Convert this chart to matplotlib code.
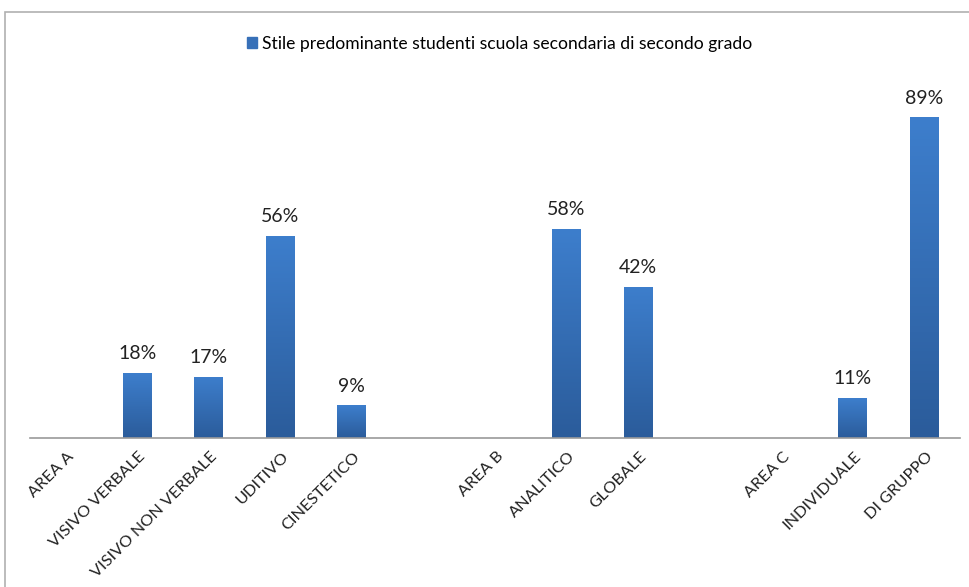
import numpy as np
import matplotlib
matplotlib.use('Agg')
import matplotlib.pyplot as plt
from matplotlib.colors import LinearSegmentedColormap
from matplotlib.patches import Rectangle
from matplotlib.transforms import ScaledTranslation

plt.rcParams['font.family'] = ['Lato', 'DejaVu Sans']

categories = ['AREA A', 'VISIVO VERBALE', 'VISIVO NON VERBALE', 'UDITIVO',
              'CINESTETICO', '', 'AREA B', 'ANALITICO', 'GLOBALE', '',
              'AREA C', 'INDIVIDUALE', 'DI GRUPPO']
values = [None, 18, 17, 56, 9, None, None, 58, 42, None, None, 11, 89]
series_name = 'Stile predominante studenti scuola secondaria di secondo grado'

W, H = 969, 587
fig = plt.figure(figsize=(W / 100, H / 100), dpi=100)
ax = fig.add_axes([30 / W, 1 - 437.7 / H, 930 / W, 360 / H])

x = np.arange(len(categories))
heights = [v / 100 if v is not None else 0 for v in values]
bw = 0.405
cmap = LinearSegmentedColormap.from_list('grad', ['#2B5C9B', '#3D7ECC'])
grad = np.linspace(0, 1, 100).reshape(-1, 1)

bars = ax.bar(x, heights, width=bw, color='none')
for b, v in zip(bars, values):
    if v is None:
        continue
    x0, y0 = b.get_x(), b.get_y()
    w, h = b.get_width(), b.get_height()
    im = ax.imshow(grad, cmap=cmap, aspect='auto', origin='lower',
                   extent=[x0, x0 + w, y0, y0 + h], zorder=2)
    im.set_clip_path(Rectangle((x0, y0), w, h, transform=ax.transData))
    ax.text(b.get_x() + w / 2, h + 0.03, f'{v}%', ha='center', va='bottom',
            fontsize=14, color='#222222')

ax.set_xlim(-0.5, len(categories) - 0.5)
ax.set_ylim(0, 1.0)
for s in ['top', 'right', 'left']:
    ax.spines[s].set_visible(False)
ax.spines['bottom'].set_color('#9a9a9a')
ax.spines['bottom'].set_linewidth(1.2)
ax.set_yticks([])
ax.set_xticks(x)
ax.set_xticklabels(categories, rotation=45, ha='right', va='center',
                   rotation_mode='anchor', fontsize=11.8, color='#222222')
ax.tick_params(axis='x', length=0, pad=12)
shift = ScaledTranslation(6 / 100, 0, fig.dpi_scale_trans)
for lbl in ax.get_xticklabels():
    lbl.set_transform(lbl.get_transform() + shift)

handle = Rectangle((0, 0), 1, 1, color='#3770B8')
fig.legend([handle], [series_name], loc='center',
           bbox_to_anchor=(500 / W, 1 - 44 / H), frameon=False,
           fontsize=12.6, handlelength=0.55, handleheight=0.6,
           handletextpad=0.3)

# outer chart border
fig.patches.append(Rectangle((5 / W, -0.1), 1.1, 1 - 12 / H + 0.1,
                             transform=fig.transFigure, fill=False,
                             edgecolor='#b0b0b0', linewidth=1.2))

fig.savefig('out.png', dpi=100)
